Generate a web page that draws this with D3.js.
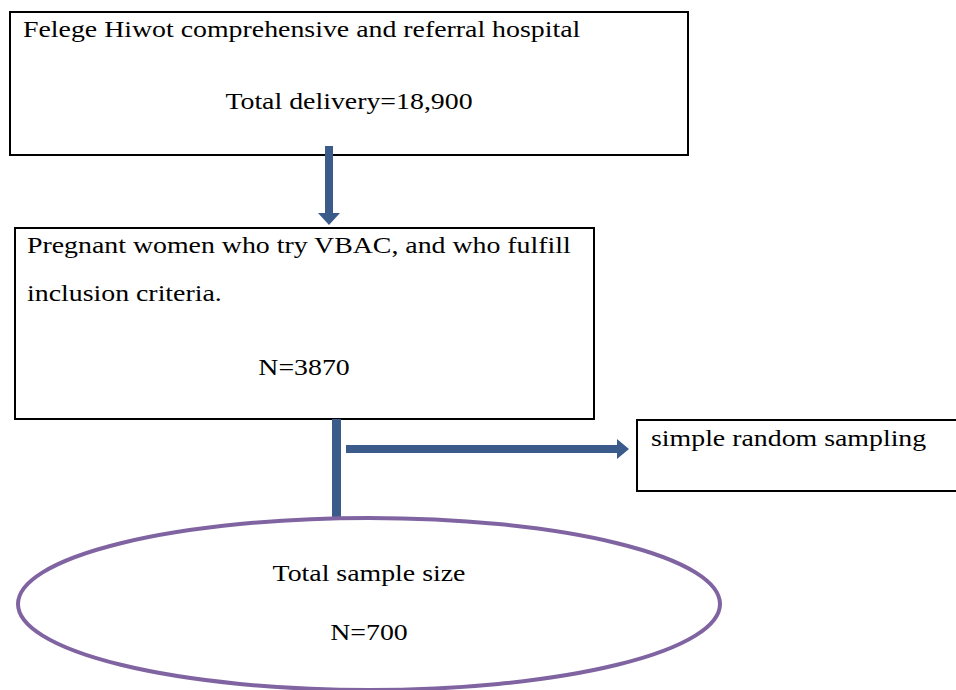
<!DOCTYPE html>
<html>
<head>
<meta charset="utf-8">
<script src="https://cdn.jsdelivr.net/npm/d3@7"></script>
<style>
  html, body { margin: 0; padding: 0; background: #fff; }
  svg { display: block; }
  text { font-family: "Liberation Serif", "Times New Roman", serif; font-size: 24px; fill: #000; }
</style>
</head>
<body>
<svg width="956" height="690"></svg>
<script>
// flow chart content
const hospital = "Felege Hiwot comprehensive and referral hospital";
const deliveryLabel = "Total delivery";
const deliveryCount = 18900;
const eligibleLines = ["Pregnant women who try VBAC, and who fulfill", "inclusion criteria."];
const eligibleCount = 3870;
const samplingLabel = "simple random sampling";
const sampleLabel = "Total sample size";
const sampleCount = 700;

const svg = d3.select('svg');
const arrowColor = '#3b5b8b';
const fmt = d3.format(',');
const stretch = 1.16; // the source text is set a bit wider

const label = (x, y, txt, anchor) => svg.append('text')
	.attr('transform', `translate(${x},${y}) scale(${stretch},1)`)
	.attr('text-anchor', anchor || 'start')
	.text(txt);

// box 1
svg.append('rect')
	.attr('x', 10).attr('y', 12)
	.attr('width', 678).attr('height', 143)
	.attr('fill', 'none').attr('stroke', '#000').attr('stroke-width', 2);
label(23, 37, hospital);
label(349, 109, deliveryLabel + '=' + fmt(deliveryCount), 'middle');

// arrow down
const downArrow = [[325, 146], [333, 146], [333, 213], [340, 213], [329, 225], [318, 213], [325, 213]];
svg.append('path')
	.attr('d', d3.line()(downArrow) + 'Z')
	.attr('fill', arrowColor);

// box 2
svg.append('rect')
	.attr('x', 15).attr('y', 228)
	.attr('width', 579).attr('height', 191)
	.attr('fill', 'none').attr('stroke', '#000').attr('stroke-width', 2);
eligibleLines.forEach((d, i) => label(27, 253 + i * 48, d));
label(304, 375, 'N=' + eligibleCount, 'middle');

// vertical connector to ellipse
svg.append('rect')
	.attr('x', 332).attr('y', 419)
	.attr('width', 9).attr('height', 100)
	.attr('fill', arrowColor);

// arrow right
const rightArrow = [[346, 445], [617, 445], [617, 439], [629, 449], [617, 459], [617, 453], [346, 453]];
svg.append('path')
	.attr('d', d3.line()(rightArrow) + 'Z')
	.attr('fill', arrowColor);

// box 3
svg.append('rect')
	.attr('x', 637).attr('y', 420)
	.attr('width', 330).attr('height', 71)
	.attr('fill', 'none').attr('stroke', '#000').attr('stroke-width', 2);
label(651, 446, samplingLabel);

// ellipse
svg.append('ellipse')
	.attr('cx', 369).attr('cy', 604)
	.attr('rx', 351).attr('ry', 86)
	.attr('fill', 'none').attr('stroke', '#8064a2').attr('stroke-width', 4);
label(369, 581, sampleLabel, 'middle');
label(369, 640, 'N=' + sampleCount, 'middle');
</script>
</body>
</html>
